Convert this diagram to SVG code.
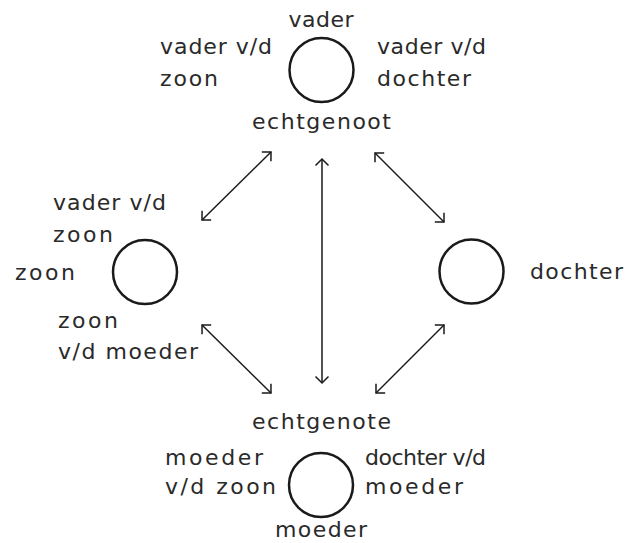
<svg xmlns="http://www.w3.org/2000/svg" width="628" height="543" viewBox="0 0 628 543">
  <style>
    .node circle { fill: none; stroke: #1a1a1a; stroke-width: 2.5; }
    text { font-family: "DejaVu Sans", "Open Sans", sans-serif; font-size: 22px; fill: #2a2a2a; }
    .mid { text-anchor: middle; }
    #connectors line { stroke: #1a1a1a; stroke-width: 1.5; marker-start: url(#tip); marker-end: url(#tip); }
  </style>
  <defs>
    <marker id="tip" viewBox="-10 -10 20 20" markerWidth="20" markerHeight="20" markerUnits="userSpaceOnUse" refX="0" refY="0" orient="auto-start-reverse">
      <path d="M -6.5 -6.5 L 0 0 L -6.5 6.5" fill="none" stroke="#1a1a1a" stroke-width="1.5"/>
    </marker>
  </defs>
  <rect width="628" height="543" fill="#ffffff"/>

  <g id="connectors">
    <line x1="271" y1="152" x2="202" y2="220"/>
    <line x1="375" y1="153" x2="444" y2="222"/>
    <line x1="322" y1="159" x2="322" y2="383"/>
    <line x1="202" y1="325" x2="271" y2="393"/>
    <line x1="444" y1="325" x2="376" y2="393"/>
  </g>

  <g id="node-vader" class="node">
    <circle cx="321.5" cy="70" r="32"/>
    <text class="mid" x="321" y="27" textLength="65" lengthAdjust="spacing">vader</text>
    <text x="160" y="54" textLength="112" lengthAdjust="spacing">vader v/d</text>
    <text x="160" y="86" textLength="58" lengthAdjust="spacing">zoon</text>
    <text x="377" y="54" textLength="109" lengthAdjust="spacing">vader v/d</text>
    <text x="377" y="86" textLength="94" lengthAdjust="spacing">dochter</text>
    <text class="mid" x="321.5" y="129" textLength="139" lengthAdjust="spacing">echtgenoot</text>
  </g>

  <g id="node-zoon" class="node">
    <circle cx="145" cy="272" r="32"/>
    <text x="53" y="210" textLength="113" lengthAdjust="spacing">vader v/d</text>
    <text x="53" y="242" textLength="60" lengthAdjust="spacing">zoon</text>
    <text x="15" y="280" textLength="60" lengthAdjust="spacing">zoon</text>
    <text x="58" y="328" textLength="60" lengthAdjust="spacing">zoon</text>
    <text x="58" y="359" textLength="140" lengthAdjust="spacing">v/d moeder</text>
  </g>

  <g id="node-dochter" class="node">
    <circle cx="471.5" cy="271.5" r="32"/>
    <text x="530" y="279" textLength="93" lengthAdjust="spacing">dochter</text>
  </g>

  <g id="node-moeder" class="node">
    <circle cx="321" cy="485" r="32"/>
    <text class="mid" x="321.5" y="429" textLength="139" lengthAdjust="spacing">echtgenote</text>
    <text x="165" y="465" textLength="98" lengthAdjust="spacing">moeder</text>
    <text x="165" y="494" textLength="111" lengthAdjust="spacing">v/d zoon</text>
    <text x="365" y="465" textLength="121" lengthAdjust="spacing">dochter v/d</text>
    <text x="365" y="494" textLength="98" lengthAdjust="spacing">moeder</text>
    <text class="mid" x="321" y="537" textLength="92" lengthAdjust="spacing">moeder</text>
  </g>
</svg>
